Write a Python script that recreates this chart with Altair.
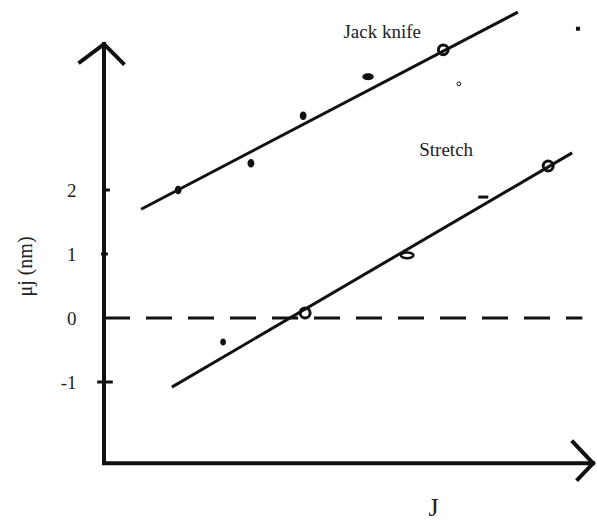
import altair as alt
import pandas as pd

# ---- Jack knife series (J, mu_j in nm) ----
jack_dot_j = [1.52, 3.01, 4.08]
jack_dot_mu = [2.00, 2.42, 3.16]
jack_oval_j = [5.41]
jack_oval_mu = [3.77]
jack_ring_j = [6.95]
jack_ring_mu = [4.19]
jack_fit_j = [0.76, 8.48]
jack_fit_mu = [1.70, 4.78]

# ---- Stretch series ----
stretch_dot_j = [2.44]
stretch_dot_mu = [-0.375]
stretch_ring_j = [4.12, 9.10]
stretch_ring_mu = [0.08, 2.375]
stretch_oval_j = [6.21]
stretch_oval_mu = [0.98]
stretch_dash_j = [7.77]
stretch_dash_mu = [1.89]
stretch_fit_j = [1.39, 9.59]
stretch_fit_mu = [-1.08, 2.58]

# ---- stray marks ----
stray_ring_j = [7.27]
stray_ring_mu = [3.66]
stray_sq_j = [9.71]
stray_sq_mu = [4.52]

# ---- reference line at mu = 0 ----
zero_j = [0.0, 9.80]
zero_mu = [0.0]

# ---- hand-drawn axes with arrow heads ----
axes_j = [0.0, 0.0, 10.02]
axes_mu = [4.28, -2.27, -2.27]
y_head_j = [-0.49, 0.0, 0.39]
y_head_mu = [4.00, 4.28, 3.98]
x_head_j = [9.61, 10.02, 9.71]
x_head_mu = [-1.94, -2.27, -2.52]
tick_mu = [2, 1, -1]
tick_j0 = [0.0, -0.06, -0.14]
tick_j1 = [0.12, 0.08, 0.18]
y_tick_values = [2, 1, 0, -1]

# ---- annotations ----
note_text = ["Jack knife", "Stretch"]
note_j = [5.70, 7.01]
note_mu = [4.47, 2.625]

FONT = "Liberation Serif"
INK = "#111"

xs = alt.Scale(domain=[0, 10.10], nice=False, zero=False)
ys = alt.Scale(domain=[-3.203, 4.969], nice=False, zero=False)

x_axis = alt.Axis(title="J", labels=False, ticks=False, domain=False, grid=False,
                  titleFont=FONT, titleFontSize=26, titleFontWeight="normal",
                  titleColor="#222", titleX=329, titleY=-16,
                  titleAlign="center", titleBaseline="middle")
y_axis = alt.Axis(title="μj (nm)", values=y_tick_values, domain=False, ticks=False,
                  tickSize=0, grid=False, labelFont=FONT, labelFontSize=19,
                  labelExpr="'' + datum.value",
                  labelColor="#222", labelPadding=28,
                  titleFont=FONT, titleFontSize=20, titleFontWeight="normal",
                  titleColor="#222", titleX=-79, titleY=266, titleAngle=270,
                  titleAlign="center", titleBaseline="middle")


def X(field="J"):
    return alt.X(f"{field}:Q", scale=xs, axis=x_axis)


def Y(field="mu"):
    return alt.Y(f"{field}:Q", scale=ys, axis=y_axis)


def pts(j, mu):
    return pd.DataFrame({"J": j, "mu": mu})


def poly(j, mu):
    return pd.DataFrame({"J": j, "mu": mu, "k": list(range(len(j)))})


oval = "M -1 0 A 1 0.6 0 1 0 1 0 A 1 0.6 0 1 0 -1 0 Z"
flat_oval = "M -1 0 A 1 0.45 0 1 0 1 0 A 1 0.45 0 1 0 -1 0 Z"
tall_dot = "M 0 -1 A 0.8 1 0 1 0 0 1 A 0.8 1 0 1 0 0 -1 Z"
dash = "M -1 -0.3 L 1 -0.3 L 1 0.3 L -1 0.3 Z"

layers = []

# axes
for j, mu in [(axes_j, axes_mu), (y_head_j, y_head_mu), (x_head_j, x_head_mu)]:
    layers.append(alt.Chart(poly(j, mu)).mark_line(
        color=INK, strokeWidth=4, strokeCap="square", strokeJoin="miter"
    ).encode(x=X(), y=Y(), order="k:Q"))

layers.append(alt.Chart(pd.DataFrame({"J": tick_j0, "J2": tick_j1, "mu": tick_mu}))
              .mark_rule(color=INK, strokeWidth=3)
              .encode(x=X(), x2="J2:Q", y=Y()))

# dashed zero line
layers.append(alt.Chart(pd.DataFrame({"J": [zero_j[0]], "J2": [zero_j[1]], "mu": zero_mu}))
              .mark_rule(color=INK, strokeWidth=3, strokeDash=[26, 16])
              .encode(x=X(), x2="J2:Q", y=Y()))

# fitted lines
for j, mu in [(jack_fit_j, jack_fit_mu), (stretch_fit_j, stretch_fit_mu)]:
    layers.append(alt.Chart(poly(j, mu)).mark_line(color=INK, strokeWidth=3)
                  .encode(x=X(), y=Y(), order="k:Q"))

# data points
layers += [
    alt.Chart(pts(jack_dot_j, jack_dot_mu)).mark_point(
        shape=tall_dot, filled=True, color=INK, size=72, opacity=1).encode(x=X(), y=Y()),
    alt.Chart(pts(stretch_dot_j, stretch_dot_mu)).mark_point(
        shape=tall_dot, filled=True, color=INK, size=52, opacity=1).encode(x=X(), y=Y()),
    alt.Chart(pts(jack_oval_j, jack_oval_mu)).mark_point(
        shape=oval, filled=True, color=INK, size=130, opacity=1).encode(x=X(), y=Y()),
    alt.Chart(pts(jack_ring_j, jack_ring_mu)).mark_point(
        shape="circle", filled=False, color=INK, strokeWidth=3, size=95, opacity=1
    ).encode(x=X(), y=Y()),
    alt.Chart(pts(stretch_ring_j, stretch_ring_mu)).mark_point(
        shape="circle", filled=False, color=INK, strokeWidth=3, size=100, opacity=1
    ).encode(x=X(), y=Y()),
    alt.Chart(pts(stretch_oval_j, stretch_oval_mu)).mark_point(
        shape=flat_oval, filled=False, color=INK, strokeWidth=2.5, size=160, opacity=1
    ).encode(x=X(), y=Y()),
    alt.Chart(pts(stretch_dash_j, stretch_dash_mu)).mark_point(
        shape=dash, filled=True, color=INK, size=100, opacity=1).encode(x=X(), y=Y()),
    alt.Chart(pts(stray_ring_j, stray_ring_mu)).mark_point(
        shape="circle", filled=False, color=INK, strokeWidth=1, size=14, opacity=1
    ).encode(x=X(), y=Y()),
    alt.Chart(pts(stray_sq_j, stray_sq_mu)).mark_point(
        shape="square", filled=True, color=INK, size=16, opacity=1).encode(x=X(), y=Y()),
]

# series names
layers.append(alt.Chart(pd.DataFrame({"J": note_j, "mu": note_mu, "t": note_text}))
              .mark_text(font=FONT, fontSize=19, color="#222", align="center",
                         baseline="middle")
              .encode(x=X(), y=Y(), text="t:N"))

chart = alt.layer(*layers).properties(
    width=493, height=523, autosize="none",
    padding={"left": 104, "top": 0, "right": 0, "bottom": 0},
    background="white",
).configure_view(stroke=None)

chart.save("out.html", embed_options={"renderer": "svg", "actions": False})
